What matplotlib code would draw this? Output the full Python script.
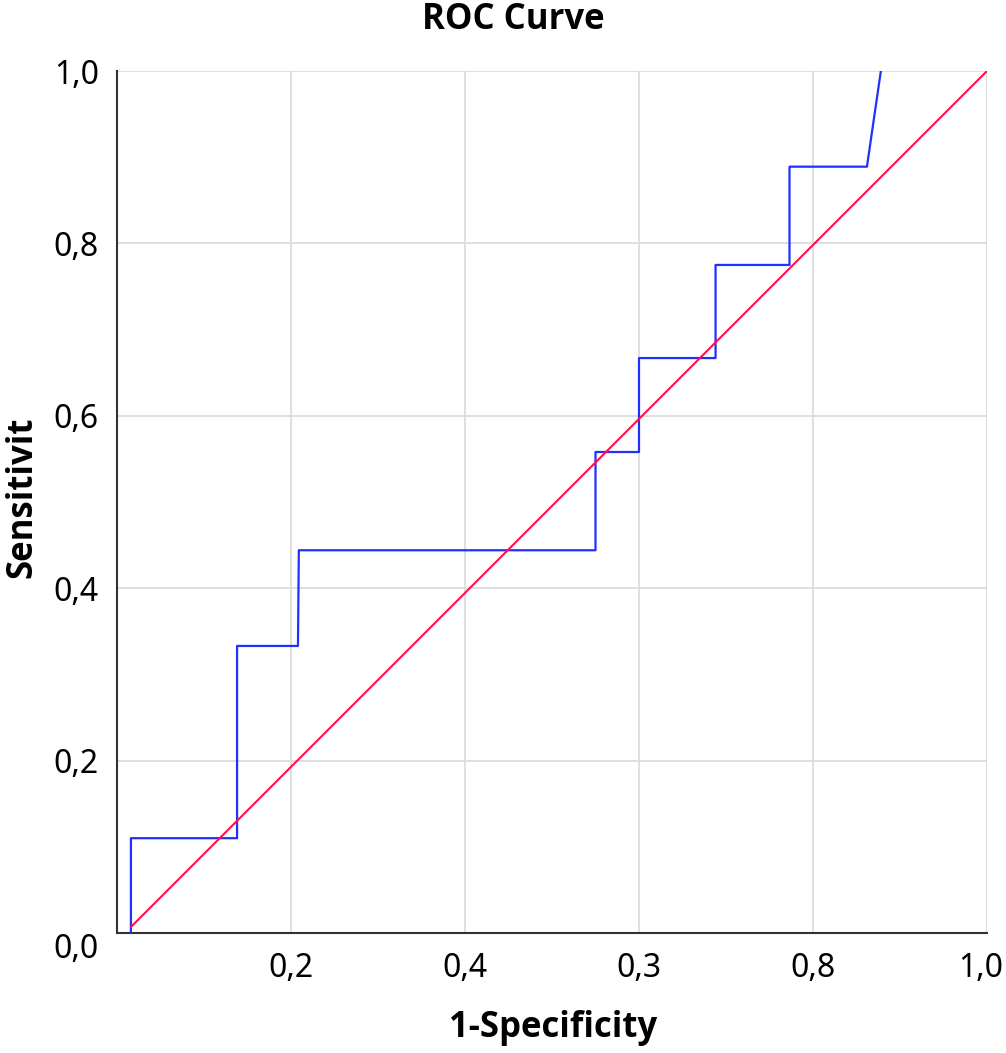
import matplotlib
matplotlib.use("Agg")
import matplotlib.pyplot as plt
import matplotlib.transforms as mtransforms
from matplotlib import font_manager

fonts = font_manager.fontManager.ttflist
def pick(pref, bold):
    for p in pref:
        for f in fonts:
            if f.name == p and ((f.weight in ('bold', 700, 'semibold', 600)) if bold else True):
                return p
    return 'DejaVu Sans'

reg_fam = pick(["Noto Sans", "Open Sans", "Lato"], False)
bold_fam = pick(["Noto Sans", "Open Sans", "Lato", "Roboto"], True)
plt.rcParams['font.family'] = [reg_fam, 'DejaVu Sans']

# ROC curve (1-specificity, sensitivity)
roc_fpr = [0.016, 0.016, 0.138, 0.138, 0.208, 0.209, 0.550, 0.550, 0.600, 0.600,
           0.688, 0.688, 0.773, 0.773, 0.862, 0.878]
roc_tpr = [0.000, 0.110, 0.110, 0.333, 0.333, 0.444, 0.444, 0.558, 0.558, 0.667,
           0.667, 0.775, 0.775, 0.889, 0.889, 1.000]
ref_x = [0.016, 1.0]
ref_y = [0.007, 1.0]

xticks = [0.2, 0.4, 0.6, 0.8, 1.0]
xtick_labels = ["0,2", "0,4", "0,3", "0,8", "1,0"]
yticks = [0.0, 0.2, 0.4, 0.6, 0.8, 1.0]
ytick_labels = ["0,0", "0,2", "0,4", "0,6", "0,8", "1,0"]

W, H = 1006, 1053
fig = plt.figure(figsize=(W/100, H/100), dpi=100)
ax = fig.add_axes([117/W, 1 - 933/H, (987-117)/W, (933-71)/H])

ax.plot(roc_fpr, roc_tpr, color="#1f30ff", lw=1.6, zorder=3)
ax.plot(ref_x, ref_y, color="#ff1048", lw=1.5, zorder=3)

ax.set_xlim(0, 1.0)
ax.set_ylim(0, 1.0)
ax.set_xticks(xticks)
ax.set_xticklabels(xtick_labels)
ax.set_yticks(yticks)
ax.set_yticklabels(ytick_labels)
ax.tick_params(axis='both', length=0, labelsize=23)
ax.tick_params(axis='x', pad=14)
ax.tick_params(axis='y', pad=13)
ax.get_yticklabels()[0].set_va('top')
last = ax.get_xticklabels()[-1]
last.set_transform(last.get_transform() + mtransforms.ScaledTranslation(-6/100, 0, fig.dpi_scale_trans))
ax.grid(True, color="#dcdcdc", lw=1.3, zorder=0)
ax.set_axisbelow(True)
for s in ['top', 'right']:
    ax.spines[s].set_visible(False)
for s in ['left', 'bottom']:
    ax.spines[s].set_color("#333333")
    ax.spines[s].set_linewidth(1.5)

bkw = dict(fontsize=25, fontweight='bold', family=[bold_fam, 'DejaVu Sans'])
fig.text(513/W, 1 - 20/H, "ROC Curve", ha='center', va='center', **bkw)
fig.text(553/W, 1 - 1028/H, "1-Specificity", ha='center', va='center', **bkw)
fig.text(22/W, 1 - 497/H, "Sensitivit", ha='center', va='center', rotation=90, **bkw)

fig.savefig("out.png", dpi=100)
